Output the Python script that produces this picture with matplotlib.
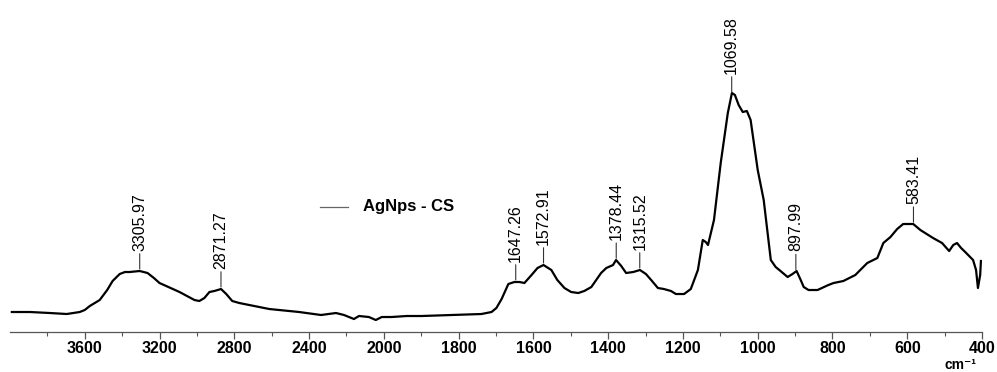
import numpy as np
import matplotlib
matplotlib.use("Agg")
import matplotlib.pyplot as plt
from matplotlib.ticker import FixedLocator, FuncFormatter

plt.rcParams['font.family'] = ['Liberation Sans', 'DejaVu Sans']

# FTIR spectrum of AgNps - CS (wavenumber cm-1, absorbance a.u.)
wavenumber = [3990, 3893, 3787, 3696, 3627, 3600, 3573, 3520, 3480, 3451, 3413, 3385, 3360,
              3306, 3264, 3230,
              3200, 3093, 3013, 2987, 2960, 2933, 2907, 2871, 2843, 2811, 2773, 2720,
              2613, 2453, 2336, 2256, 2213, 2160, 2133, 2080, 2043, 2011,
              1979, 1939, 1899, 1819, 1739, 1712, 1699, 1685, 1667, 1651, 1637, 1624,
              1605, 1589, 1573, 1552, 1536, 1517, 1499, 1480, 1464, 1445, 1419, 1405,
              1387, 1379, 1365, 1352, 1333, 1315, 1299, 1285, 1267, 1251, 1232, 1219,
              1197, 1179, 1160, 1147, 1139, 1133, 1117, 1099, 1080, 1069, 1061, 1051,
              1040, 1029, 1019, 1000, 984, 965, 952, 939, 920, 907, 896, 885, 877,
              864, 840, 811, 797, 771, 739, 707, 680, 664, 645, 627, 611, 584, 565,
              531, 507, 488, 477, 467, 456, 445, 424, 416, 411, 405, 403]
absorbance = [20, 20, 19, 18, 20, 22, 26, 32, 42, 51, 58, 60, 60,
              61, 59, 54,
              49, 40, 32, 31, 34, 40, 41, 43, 38, 31, 29, 27,
              23, 20, 17, 19, 17, 13, 16, 15, 12, 15,
              15, 16, 16, 17, 18, 20, 24, 33, 48, 50, 50, 49,
              57, 64, 67, 62, 52, 44, 40, 39, 41, 45, 59, 64,
              67, 72, 66, 59, 60, 62, 58, 52, 44, 43, 41, 38,
              38, 43, 62, 92, 90, 87, 112, 169, 219, 239, 237, 227,
              220, 221, 212, 162, 132, 72, 65, 61, 55, 58, 61, 52, 45,
              42, 42, 47, 49, 51, 57, 69, 74, 89, 95, 103, 108, 108, 102,
              94, 89, 81, 87, 89, 84, 80, 72, 62, 44, 57, 71]

peak_labels = [3305.97, 2871.27, 1647.26, 1572.91, 1378.44, 1315.52, 1069.58, 897.99, 583.41]

major_ticks = [3600, 3200, 2800, 2400, 2000, 1800, 1600, 1400, 1200, 1000, 800, 600, 400]
minor_ticks = [3800, 3400, 3000, 2600, 2200, 1900, 1700, 1500, 1300, 1100, 900, 700, 500]


def fwd(x):
    x = np.asarray(x, dtype=float)
    return np.where(x <= 2000, x, 2000 + (x - 2000) / 2)


def inv(y):
    y = np.asarray(y, dtype=float)
    return np.where(y <= 2000, y, 2000 + (y - 2000) * 2)


fig = plt.figure(figsize=(9.97, 3.72), dpi=100)
ax = fig.add_axes([0.010, 0.1075, 0.975, 0.8925])

ax.plot(wavenumber, absorbance, color='black', lw=1.6, solid_joinstyle='round')
ax.set_xscale('function', functions=(fwd, inv))
ax.set_xlim(4000, 400)
ax.set_ylim(0, 332)

# peak markers: short line above the curve then rotated label
wn_sorted = np.array(wavenumber[::-1], dtype=float)
ab_sorted = np.array(absorbance[::-1], dtype=float)
for pk in peak_labels:
    ypk = np.interp(pk, wn_sorted, ab_sorted)
    ax.annotate(f"{pk:.2f}", xy=(pk, ypk + 2), xytext=(0, 13),
                textcoords='offset points', rotation=90, ha='center', va='bottom',
                fontsize=11.5,
                arrowprops=dict(arrowstyle='-', lw=0.8, color='#333333',
                                shrinkA=0, shrinkB=0))

ax.xaxis.set_major_locator(FixedLocator(major_ticks))
ax.xaxis.set_minor_locator(FixedLocator(minor_ticks))
ax.xaxis.set_major_formatter(FuncFormatter(lambda v, p: f"{int(round(v))}"))
ax.xaxis.set_minor_formatter(FuncFormatter(lambda v, p: ""))
ax.tick_params(axis='x', which='major', length=5, width=0.9, color='#555555',
               labelsize=11.5, pad=1.5)
ax.tick_params(axis='x', which='minor', length=3, width=0.8, color='#555555')
for lab in ax.get_xticklabels():
    lab.set_fontweight('bold')
ax.set_yticks([])
for side in ['left', 'top', 'right']:
    ax.spines[side].set_visible(False)
ax.spines['bottom'].set_color('#555555')
ax.spines['bottom'].set_linewidth(0.9)

# legend drawn like the instrument software
fig.lines.append(plt.Line2D([0.321, 0.349], [1 - 207 / 372, 1 - 207 / 372],
                            transform=fig.transFigure, color='#666666', lw=0.9))
fig.text(0.364, 1 - 207 / 372, "AgNps - CS", fontsize=12, fontweight='bold',
         va='center', ha='left')

fig.text(0.963, 0.0, "cm\u207b\u00b9", fontsize=10, fontweight='bold',
         ha='center', va='bottom')

fig.savefig("out.png", dpi=100)
